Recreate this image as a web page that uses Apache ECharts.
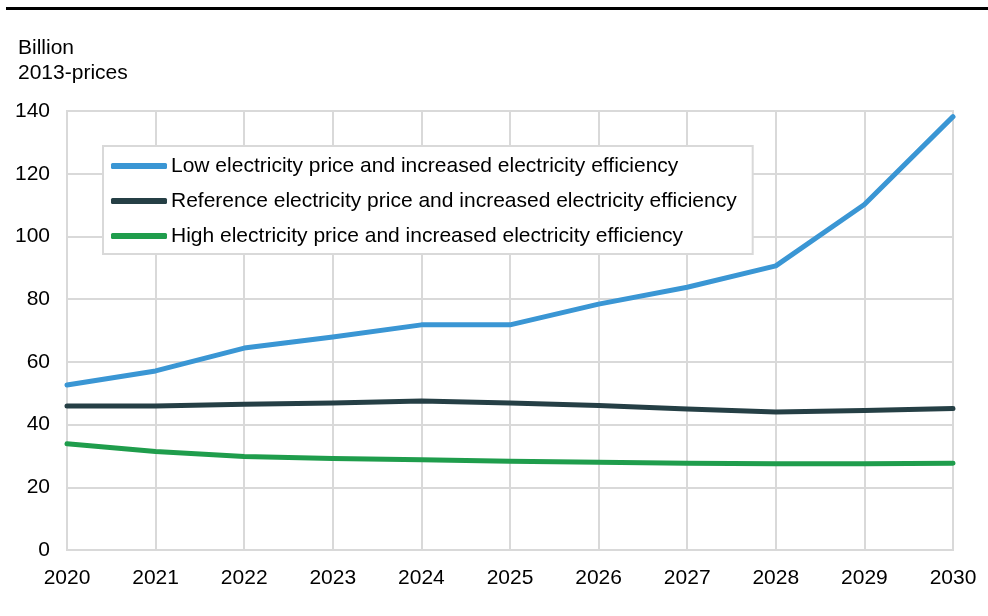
<!DOCTYPE html>
<html>
<head>
<meta charset="utf-8">
<script src="https://cdn.jsdelivr.net/npm/echarts@6/dist/echarts.min.js"></script>
<style>
html,body{margin:0;padding:0;background:#fff;}
#chart{width:988px;height:616px;}
</style>
</head>
<body>
<div id="chart"></div>
<script>
const years = ['2020','2021','2022','2023','2024','2025','2026','2027','2028','2029','2030'];
const lowPrice = [52.6, 57.1, 64.4, 67.9, 71.8, 71.8, 78.4, 83.8, 90.6, 110.2, 138.2];
const refPrice = [45.9, 45.9, 46.5, 46.9, 47.5, 46.9, 46.1, 45.0, 44.0, 44.5, 45.1];
const highPrice = [33.9, 31.4, 29.8, 29.2, 28.8, 28.3, 28.0, 27.7, 27.5, 27.5, 27.7];
const seriesNames = [
  'Low electricity price and increased electricity efficiency',
  'Reference electricity price and increased electricity efficiency',
  'High electricity price and increased electricity efficiency'
];
const colors = ['#3a96d4', '#253f45', '#1f9d4c'];
const yUnit = 'Billion\n2013-prices';

const chart = echarts.init(document.getElementById('chart'), null, {renderer: 'canvas'});
const font = 'Liberation Sans, Arial, sans-serif';
const fs = 21;
const gridColor = '#d9d9d9';
function mk(name, data, color) {
  return {
    name, type: 'line', data, symbol: 'none', smooth: false,
    lineStyle: {color, width: 5, cap: 'round', join: 'round'},
    itemStyle: {color}
  };
}
chart.setOption({
  animation: false,
  textStyle: {fontFamily: font},
  graphic: [
    {type: 'rect', shape: {x: 6, y: 7, width: 982, height: 3}, style: {fill: '#000'}},
    {type: 'text', left: 18, top: 36, style: {text: yUnit, font: fs + 'px ' + font, fill: '#000', lineHeight: 25}}
  ],
  grid: {left: 67, right: 35, top: 111, bottom: 66, show: true, borderColor: gridColor, borderWidth: 2},
  legend: {
    orient: 'vertical', left: 103, top: 146,
    backgroundColor: '#fff', borderColor: gridColor, borderWidth: 2,
    padding: [9, 16, 7, 8], itemGap: 13,
    icon: 'roundRect', itemWidth: 56, itemHeight: 6,
    textStyle: {fontSize: fs, lineHeight: 22, color: '#000', fontFamily: font, padding: [0, 0, 0, -1]},
    data: seriesNames
  },
  xAxis: {
    type: 'category', data: years, boundaryGap: false,
    axisLine: {lineStyle: {color: gridColor, width: 2}},
    axisTick: {show: false},
    splitLine: {show: true, lineStyle: {color: gridColor, width: 2}},
    axisLabel: {fontSize: fs, color: '#000', margin: 18, fontFamily: font}
  },
  yAxis: {
    type: 'value', min: 0, max: 140, interval: 20,
    axisLine: {show: true, lineStyle: {color: gridColor, width: 2}},
    axisTick: {show: false},
    splitLine: {lineStyle: {color: gridColor, width: 2}},
    axisLabel: {fontSize: fs, color: '#000', margin: 17, fontFamily: font}
  },
  series: [
    mk(seriesNames[0], lowPrice, colors[0]),
    mk(seriesNames[1], refPrice, colors[1]),
    mk(seriesNames[2], highPrice, colors[2])
  ]
});
</script>
</body>
</html>
